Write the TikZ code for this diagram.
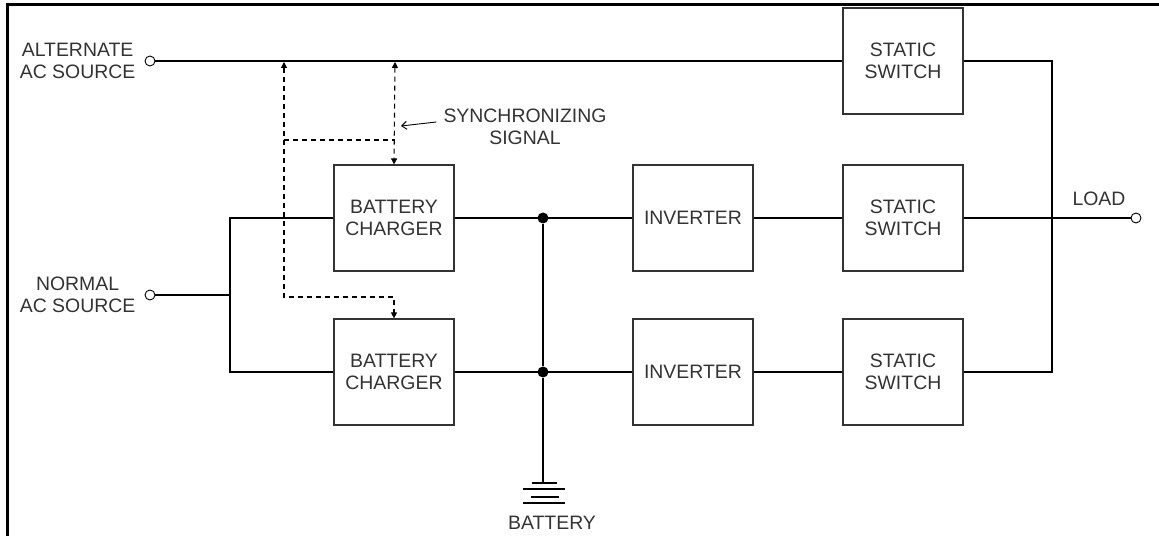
\documentclass[tikz,border=0pt]{standalone}
\usepackage{fontspec}
\setmainfont{Liberation Sans}
\usetikzlibrary{positioning,arrows.meta}

\begin{document}
\begin{tikzpicture}[x=1bp,y=-1bp,
	font=\fontsize{19.5}{22}\selectfont,
	blk/.style={draw=black!80,line width=1.2bp,minimum width=120bp,minimum height=106bp,align=center,inner sep=0pt,text=black!80},
	term/.style={draw,circle,line width=0.9bp,minimum size=10bp,inner sep=0pt},
	lbl/.style={align=center,inner sep=0pt,text=black!80},
	dot/.style={circle,fill,minimum size=11bp,inner sep=0pt},
	sig/.style={dash pattern=on 5bp off 4bp,line width=1.1bp},
	wire/.style={line width=1.3bp}]
			\useasboundingbox (0,0) rectangle (1159,536);
			\draw[line width=3bp] (7,536) -- (7,5) -- (1159,5);
			
			\node[blk] (1) at (903,61) {STATIC\\SWITCH};
			\node[blk] (2) at (394,218) {BATTERY\\CHARGER};
			\node[blk] (3) at (394,372) {BATTERY\\CHARGER};
			\node[blk] (4) at (693,218) {INVERTER};
			\node[blk] (5) at (693,372) {INVERTER};
			\node[blk] (6) at (903,218) {STATIC\\SWITCH};
			\node[blk] (7) at (903,372) {STATIC\\SWITCH};
			
			\node[term] (8) at (150,61) {};
			\node[term] (9) at (150,295) {};
			\node[term] (10) at (1136,218) {};
			
			\node[lbl] (11) [left=9bp of 8] {ALTERNATE\\AC SOURCE};
			\node[lbl] (12) [left=9bp of 9] {NORMAL\\AC SOURCE};
			\node[lbl] (13) at (1099,199) {LOAD};
			\node[lbl] (14) at (525,127) {SYNCHRONIZING\\SIGNAL};
			\node[lbl] (15) at (552,523) {BATTERY};
			
			\node[dot] (16) at (543,218) {};
			\node[dot] (17) at (543,372) {};
			
			\coordinate (18) at (230,218);
			\coordinate (19) at (230,372);
			\coordinate (20) at (230,295);
			\coordinate (21) at (1052,218);
			\coordinate (22) at (543,483);
			
			% power path
			\draw[wire] (8) -- (1);
			\draw[wire] (9) -- (20);
			\draw[wire] (2.west) -- (18) -- (19) -- (3.west);
			\draw[wire] (2) -- (4);
			\draw[wire] (3) -- (5);
			\draw[wire] (4) -- (6);
			\draw[wire] (5) -- (7);
			\draw[wire] (1.east) -| (21);
			\draw[wire] (7.east) -| (21);
			\draw[wire] (6) -- (21) -- (10);
			
			% battery
			\draw[wire] (16) -- (17) -- (22);
			\draw[wire] (532,483) -- (557,483);
			\draw[wire] (523,489) -- (565,489);
			\draw[wire] (531,497) -- (559,497);
			\draw[wire] (523,503) -- (565,503);
			
			% synchronizing signal
			\coordinate (23) at (284,62);
			\coordinate (24) at (395,62);
			\coordinate (25) at (284,140);
			\coordinate (26) at (395,140);
			\coordinate (27) at (284,297);
			\coordinate (28) at (401,126);
			
			\draw[sig,{Triangle[length=6bp,width=6bp]}-{Triangle[length=6bp,width=6bp]}] (23) -- (27) -| (3.north);
			\draw[sig,{Triangle[length=6bp,width=6bp]}-{Triangle[length=6bp,width=6bp]}] (24) -- (2.north);
			\draw[sig] (25) -- (26);
			\draw[line width=0.9bp,-{Straight Barb[length=5bp,width=8bp]}] (14.west) ++(-7,-5) -- (28);
		\end{tikzpicture}
\end{document}
